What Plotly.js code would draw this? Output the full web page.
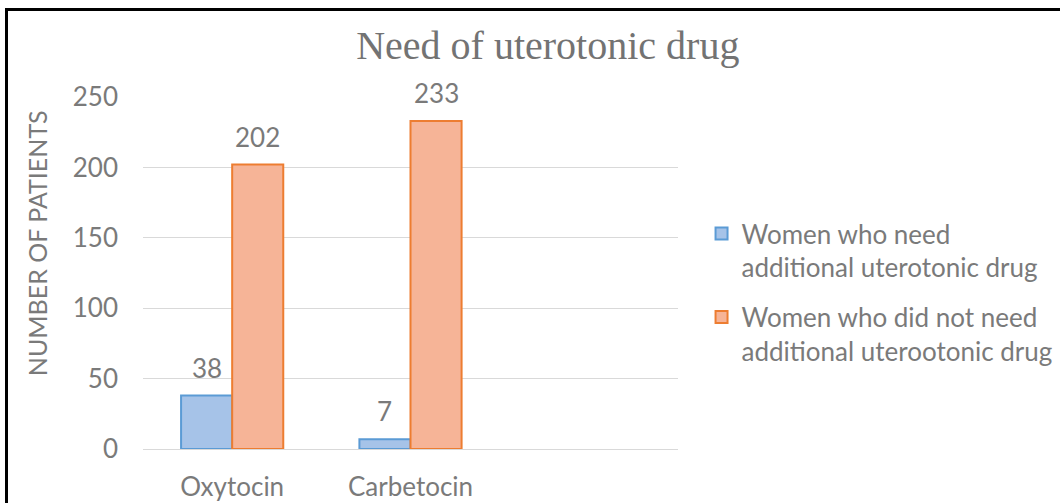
<!DOCTYPE html>
<html>
<head>
<meta charset="utf-8">
<script src="https://cdn.plot.ly/plotly-3.0.1.min.js"></script>
<style>
html,body{margin:0;padding:0;background:#fff;overflow:hidden;width:1060px;height:503px;}
#frame{position:absolute;left:5px;top:8px;width:1055px;height:495px;border-left:3px solid #000;border-top:3px solid #000;box-sizing:border-box;}
#chart{position:absolute;left:0;top:0;width:1100px;height:503px;}
</style>
</head>
<body>
<div id="chart"></div>
<div id="frame"></div>
<script>
var categories = ['Oxytocin', 'Carbetocin'];
var seriesNames = ['Women who need<br>additional uterotonic drug', 'Women who did not need<br>additional uterootonic drug'];
var needed = [38, 7];
var notNeeded = [202, 233];
var yTicks = [0, 50, 100, 150, 200, 250];

var xIdx = categories.map(function(c, i){ return i; });
var bargap = 0.427;
var half = (1 - bargap) / 4;

var txt = '#7a7a7a';
var font = 'Lato, "Open Sans", sans-serif';

var traces = [
  {type:'bar', x:xIdx, y:needed, name:seriesNames[0], legendgroup:'a',
   marker:{color:'#a6c3e8', line:{color:'#5b9bd5', width:2}}, hoverinfo:'y'},
  {type:'bar', x:xIdx, y:notNeeded, name:seriesNames[1], legendgroup:'b',
   marker:{color:'#f6b497', line:{color:'#ed7d31', width:2}}, hoverinfo:'y'}
];

var ann = [];
[needed, notNeeded].forEach(function(arr, s){
  arr.forEach(function(v, i){
    ann.push({x: i + (s === 0 ? -half : half), y: v, xref:'x', yref:'y', text: String(v),
      showarrow:false, yanchor:'bottom', yshift:10, font:{family:font, size:26, color:txt}});
  });
});
ann.push({xref:'paper', yref:'paper', x:-0.198, y:0.585, text:'NUMBER OF PATIENTS', textangle:-90,
  showarrow:false, xanchor:'center', yanchor:'middle', font:{family:font, size:25, color:txt}});

var layout = {
  width:1100, height:503,
  margin:{l:143, r:422, t:97, b:54},
  paper_bgcolor:'#fff', plot_bgcolor:'#fff',
  title:{text:'Need of uterotonic drug', font:{family:'"Liberation Serif", "DejaVu Serif", serif', size:40, color:'#737373'},
    x:0.498, xanchor:'center', y:0.91, yanchor:'middle'},
  barmode:'group', bargap:bargap, bargroupgap:0,
  xaxis:{range:[-0.5, 2.5], tickvals:xIdx, ticktext:categories, showgrid:false, zeroline:false,
    showline:false, ticks:'', ticklabelstandoff:20, tickfont:{family:font, size:26, color:txt}, fixedrange:true},
  yaxis:{range:[0, 250], tickvals:yTicks, showgrid:true, gridcolor:'#d9d9d9', gridwidth:1,
    zeroline:true, zerolinecolor:'#d9d9d9', zerolinewidth:1, showline:false, ticks:'',
    ticklabelstandoff:24, tickfont:{family:font, size:26, color:txt}, fixedrange:true},
  legend:{x:1.044, y:0.679, xanchor:'left', yanchor:'top', font:{family:font, size:26, color:txt},
    bgcolor:'rgba(0,0,0,0)', traceorder:'grouped', tracegroupgap:13, itemwidth:30, valign:'top'},
  annotations:ann,
  showlegend:true
};

Plotly.newPlot('chart', traces, layout, {displayModeBar:false, staticPlot:true});
</script>
</body>
</html>
